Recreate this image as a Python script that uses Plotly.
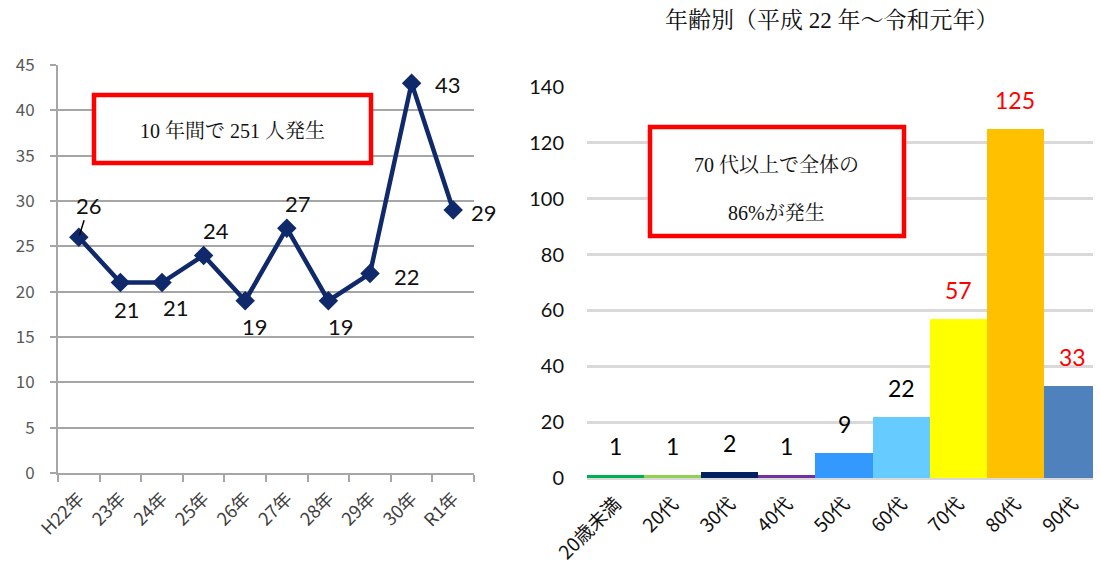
import plotly.graph_objects as go

OFF = 8  # page body margin
W, H = 1101 - OFF, 570 - OFF

# ---- data ----
years = ["H22年", "23年", "24年", "25年", "26年", "27年", "28年", "29年", "30年", "R1年"]
cases = [26, 21, 21, 24, 19, 27, 19, 22, 43, 29]

ages = ["20歳未満", "20代", "30代", "40代", "50代", "60代", "70代", "80代", "90代"]
age_counts = [1, 1, 2, 1, 9, 22, 57, 125, 33]
age_colors = ["#00b050", "#92d050", "#002060", "#7030a0", "#3399ff",
              "#66ccff", "#ffff00", "#ffc000", "#4f81bd"]
age_label_colors = ["#000000"] * 6 + ["#ff0000"] * 3

# label offsets (pixels) for the line chart
label_offsets = [(10, 32), (7, -27), (14, -25), (12, 25), (10, -26),
                 (11, 25), (13, -26), (37, -3), (36, -1), (31, -2)]


def px(x):
    return (x - OFF) / W


def py(y):
    return 1 - (y - OFF) / H


fig = go.Figure()

fig.add_trace(go.Scatter(
    x=years, y=cases, mode="lines+markers",
    line=dict(color="#10296b", width=4.5),
    marker=dict(symbol="diamond", size=15, color="#10296b"),
    xaxis="x", yaxis="y", showlegend=False, hoverinfo="skip"))

fig.add_trace(go.Bar(
    x=ages, y=age_counts, marker=dict(color=age_colors, line=dict(width=0)),
    xaxis="x2", yaxis="y2", showlegend=False, hoverinfo="skip"))

annotations = []
for i, (yr, v) in enumerate(zip(years, cases)):
    dx, dy = label_offsets[i]
    if i == 0:
        annotations.append(dict(
            x=yr, y=v, xref="x", yref="y", text=str(v),
            showarrow=True, arrowhead=0, arrowwidth=1.5, arrowcolor="#000",
            ax=dx, ay=-dy, standoff=2,
            font=dict(family="Lato, Liberation Sans", size=22, color="#111")))
    else:
        annotations.append(dict(
            x=yr, y=v, xref="x", yref="y", text=str(v), showarrow=False,
            xanchor="center", yanchor="middle",
            xshift=dx, yshift=dy,
            font=dict(family="Lato, Liberation Sans", size=22, color="#111")))

for a, v, c in zip(ages, age_counts, age_label_colors):
    annotations.append(dict(
        x=a, y=v, xref="x2", yref="y2", text=str(v), showarrow=False,
        xanchor="center", yanchor="bottom", yshift=13,
        font=dict(family="Lato, Liberation Sans", size=23, color=c)))

serif = "Liberation Serif, Noto Serif CJK JP, Noto Sans CJK JP"
annotations += [
    dict(x=px(232), y=py(131), xref="paper", yref="paper",
         xanchor="center", yanchor="middle",
         text="10 年間で 251 人発生", showarrow=False,
         font=dict(family=serif, size=20, color="#111")),
    dict(x=px(776), y=py(165), xref="paper", yref="paper",
         xanchor="center", yanchor="middle",
         text="70 代以上で全体の", showarrow=False,
         font=dict(family=serif, size=20, color="#111")),
    dict(x=px(776), y=py(213), xref="paper", yref="paper",
         xanchor="center", yanchor="middle",
         text="86%が発生", showarrow=False,
         font=dict(family=serif, size=20, color="#111")),
    dict(x=px(832), y=py(20), xref="paper", yref="paper",
         xanchor="center", yanchor="middle",
         text="年齢別（平成 22 年～令和元年）", showarrow=False,
         font=dict(family=serif, size=23, color="#111")),
]

shapes = [
    dict(type="rect", xref="paper", yref="paper",
         x0=px(94), x1=px(371), y0=py(95), y1=py(163),
         line=dict(color="#ff0000", width=4.5), fillcolor="rgba(255,255,255,1)",
         layer="above"),
    dict(type="rect", xref="paper", yref="paper",
         x0=px(650), x1=px(904), y0=py(127), y1=py(236),
         line=dict(color="#ff0000", width=4.5), fillcolor="rgba(255,255,255,1)",
         layer="above"),
]

fig.update_layout(
    width=W, height=H,
    margin=dict(l=0, r=0, t=0, b=0, autoexpand=False),
    paper_bgcolor="white", plot_bgcolor="white",
    annotations=annotations, shapes=shapes,
    bargap=0,
    xaxis=dict(domain=[px(58), px(474)], anchor="y", automargin=False,
               range=[-0.5, len(years) - 0.5],
               tickangle=-45,
               tickfont=dict(family="Noto Sans CJK JP", size=18, color="#404040"),
               ticklabelstandoff=6,
               showline=True, linecolor="#a6a6a6", linewidth=2,
               ticks="outside", tickson="boundaries", ticklen=7,
               tickcolor="#a6a6a6", tickwidth=2,
               showgrid=False, fixedrange=True),
    yaxis=dict(domain=[py(473), py(65)], anchor="x", range=[0, 45],
               automargin=False,
               tickvals=[0, 5, 10, 15, 20, 25, 30, 35, 40, 45],
               tickfont=dict(family="Noto Sans CJK JP", size=17, color="#595959"),
               ticklabelstandoff=12,
               showline=True, linecolor="#a6a6a6", linewidth=2,
               ticks="outside", ticklen=6, tickcolor="#a6a6a6", tickwidth=2,
               showgrid=True, gridcolor="#a6a6a6", gridwidth=2,
               zeroline=False, fixedrange=True),
    xaxis2=dict(domain=[px(587), 1.0], anchor="y2", automargin=False,
                range=[-0.5, len(ages) - 0.5],
                tickangle=-45,
                tickfont=dict(family="Noto Sans CJK JP", size=19, color="#111"),
                ticklabelstandoff=10,
                showline=False, ticks="", showgrid=False, fixedrange=True),
    yaxis2=dict(domain=[py(478), py(87)], anchor="x2", range=[0, 140],
                automargin=False,
                tickvals=[0, 20, 40, 60, 80, 100, 120, 140],
                tickfont=dict(family="Lato, Liberation Sans", size=20, color="#111"),
                ticklabelstandoff=22,
                showline=False, ticks="", ticklen=0,
                showgrid=True, gridcolor="#d9d9d9", gridwidth=2.5,
                zeroline=True, zerolinecolor="#d9d9d9", zerolinewidth=2.5,
                fixedrange=True),
)

fig.write_html("out.html")
